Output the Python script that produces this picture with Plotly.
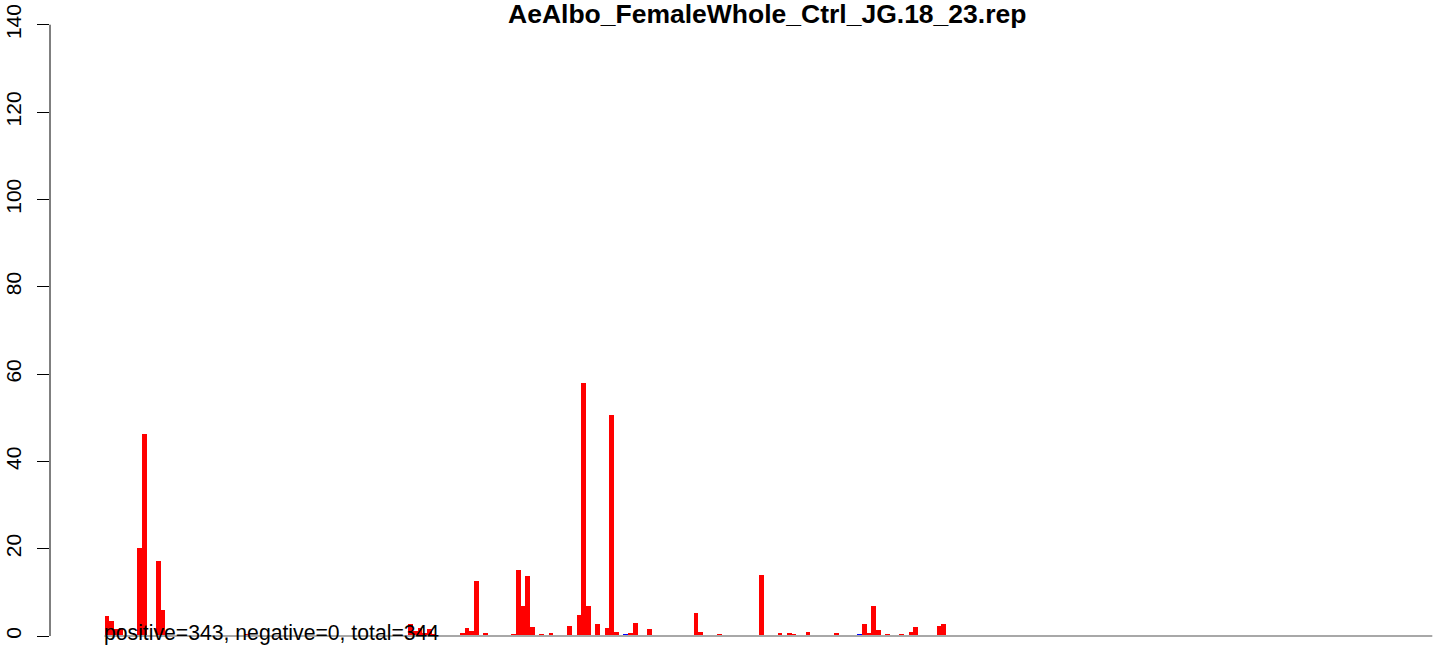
import plotly.graph_objects as go

title_text = "AeAlbo_FemaleWhole_Ctrl_JG.18_23.rep"
note_text = "positive=343, negative=0, total=344"

n_slots = 284
red_pos = [0, 1, 2, 3, 7, 8, 11, 12, 30, 65, 66, 67, 68, 69, 70, 76, 77, 78, 79, 81,
           87, 88, 89, 90, 91, 93, 95, 99, 101, 102, 103, 105, 107, 108, 109, 110,
           112, 113, 116, 126, 127, 131, 134, 135, 136, 140, 144, 145, 146, 147, 150,
           156, 162, 163, 164, 165, 167, 169, 170, 172, 173, 178, 179]
red_val = [4.6, 3.4, 1.6, 1.8, 20.2, 46.3, 17.2, 5.9, 0.3, 2.7, 1.2, 1.8, 0.8, 1.6, 0.3,
           0.75, 1.8, 1.2, 12.7, 0.75, 0.25, 15.1, 6.9, 13.8, 2.1, 0.45, 0.7, 2.3, 4.8,
           58.0, 6.9, 2.75, 1.8, 50.6, 0.9, 0.2, 0.7, 3.0, 1.6, 5.3, 0.9, 0.45, 0.2, 0.2,
           0.2, 14.0, 0.7, 0.2, 0.7, 0.3, 0.9, 0.7, 2.75, 0.7, 6.9, 1.4, 0.45, 0.2, 0.45,
           0.9, 2.1, 2.3, 2.75]
blue_pos = [111, 161]
blue_val = [0.3, 0.3]
y_ticks = [0, 20, 40, 60, 80, 100, 120, 140]

FONT = "Liberation Sans, Arial, Helvetica, sans-serif"

fig = go.Figure()
fig.add_trace(go.Scatter(x=[0, n_slots], y=[0, 0], mode="lines",
                         line=dict(color="#a8a8a8", width=2), hoverinfo="skip",
                         showlegend=False))
fig.add_trace(go.Bar(x=[p + 0.5 for p in red_pos], y=red_val, width=1,
                     marker=dict(color="#ff0000", line=dict(width=0)), showlegend=False))
fig.add_trace(go.Bar(x=[p + 0.5 for p in blue_pos], y=blue_val, width=1,
                     marker=dict(color="#0000ff", line=dict(width=0)), showlegend=False))

fig.update_layout(
    width=1444, height=650,
    margin=dict(l=50, r=0, t=0, b=0, autoexpand=False),
    paper_bgcolor="white", plot_bgcolor="white",
    barmode="overlay", bargap=0,
    font=dict(family=FONT, color="black"),
    xaxis=dict(range=[-11.66, 286.5], showgrid=False, zeroline=False,
               showticklabels=False, ticks="", showline=False, automargin=False),
    yaxis=dict(range=[-3.206, 145.657], showgrid=False, zeroline=False,
               tickvals=y_ticks, ticktext=[str(v) for v in y_ticks],
               ticks="outside", ticklen=12, tickwidth=1, tickcolor="black",
               tickangle=-90, tickfont=dict(size=21, family=FONT, color="black"),
               ticklabelstandoff=8, showline=False, automargin=False),
    shapes=[dict(type="line", xref="paper", yref="y", x0=0, x1=0, y0=0, y1=140,
                 line=dict(color="black", width=1))],
    annotations=[
        dict(text="<b>" + title_text + "</b>", xref="paper", yref="paper",
             x=(767.5 - 50) / 1394, y=1 - 14 / 650, xanchor="center", yanchor="middle",
             showarrow=False, font=dict(size=26.5, family=FONT, color="black")),
        dict(text=note_text, xref="x", yref="y", x=0, y=0.7, xshift=-3,
             xanchor="left", yanchor="middle", showarrow=False,
             font=dict(size=21.2, family=FONT, color="black")),
    ],
)

fig.write_html("out.html", config={"displayModeBar": False},
               post_script="document.body.style.margin='0';document.body.style.padding='0';")
